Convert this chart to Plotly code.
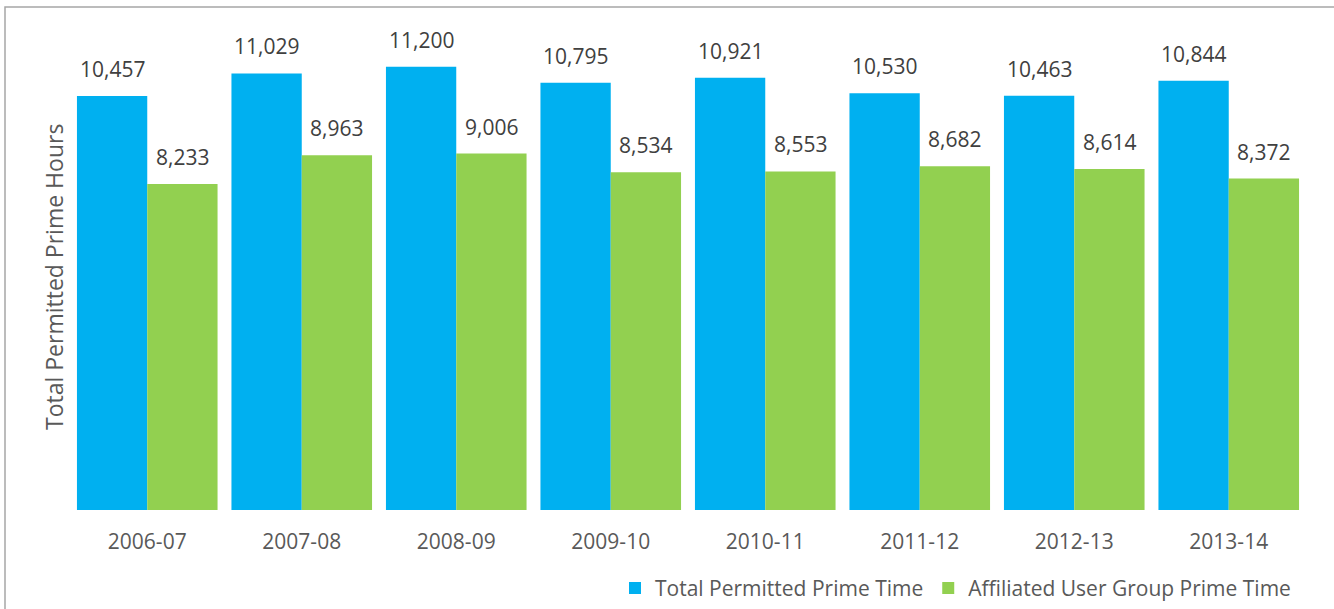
import plotly.graph_objects as go

categories = ["2006-07", "2007-08", "2008-09", "2009-10", "2010-11", "2011-12", "2012-13", "2013-14"]
total_prime = [10457, 11029, 11200, 10795, 10921, 10530, 10463, 10844]
affiliated_prime = [8233, 8963, 9006, 8534, 8553, 8682, 8614, 8372]
series_names = ["Total Permitted Prime Time", "Affiliated User Group Prime Time"]
colors = ["#00B0F0", "#92D050"]
y_title = "Total Permitted Prime Hours"

W, H = 1334, 609
L, R, T, B = 70, 28, 35, 99
PW, PH = W - L - R, H - T - B
FONT = "Open Sans"

fig = go.Figure()
for name, vals, col in zip(series_names, [total_prime, affiliated_prime], colors):
    fig.add_trace(go.Bar(x=categories, y=vals, name=name, marker=dict(color=col, line=dict(width=0))))

annotations = []
bar_px = PW / len(categories) * (1 - 0.09) / 2
for i, vals in enumerate([total_prime, affiliated_prime]):
    shift = (-0.5 if i == 0 else 0.5) * bar_px
    for c, v in zip(categories, vals):
        annotations.append(dict(x=c, y=v, text=f"{v:,}", showarrow=False, xshift=shift, yshift=27,
                                font=dict(family=FONT, size=21, color="#404040")))

annotations.append(dict(text=y_title, textangle=-90, showarrow=False,
                        xref="paper", yref="paper",
                        x=(54 - L) / PW, y=(H - B - 277) / PH, xanchor="center", yanchor="middle",
                        font=dict(family=FONT, size=23, color="#595959")))

fig.update_layout(
    width=W, height=H,
    margin=dict(l=L, r=R, t=T, b=B, autoexpand=False),
    paper_bgcolor="white", plot_bgcolor="white",
    barmode="group", bargap=0.09, bargroupgap=0,
    font=dict(family=FONT, size=21, color="#595959"),
    annotations=annotations,
    showlegend=True,
    legend=dict(orientation="h", x=(1296 - L) / PW, xanchor="right",
                y=-0.165, yanchor="middle",
                font=dict(family=FONT, size=21, color="#595959"), traceorder="normal"),
    shapes=[dict(type="rect", xref="paper", yref="paper",
                 x0=(5 - L) / PW, x1=1.1,
                 y0=-0.5, y1=(H - B - 7) / PH,
                 line=dict(color="#A6A6A6", width=1.5), fillcolor="rgba(0,0,0,0)", layer="below")],
)
fig.update_xaxes(type="category", showline=False, showgrid=False, ticks="", ticklabelstandoff=17,
                 tickfont=dict(family=FONT, size=21, color="#595959"))
fig.update_yaxes(range=[0, 12000], showticklabels=False, showgrid=False, zeroline=False, showline=False)

fig.write_html("out.html", config={"displayModeBar": False},
               post_script="document.body.style.margin='0';")
